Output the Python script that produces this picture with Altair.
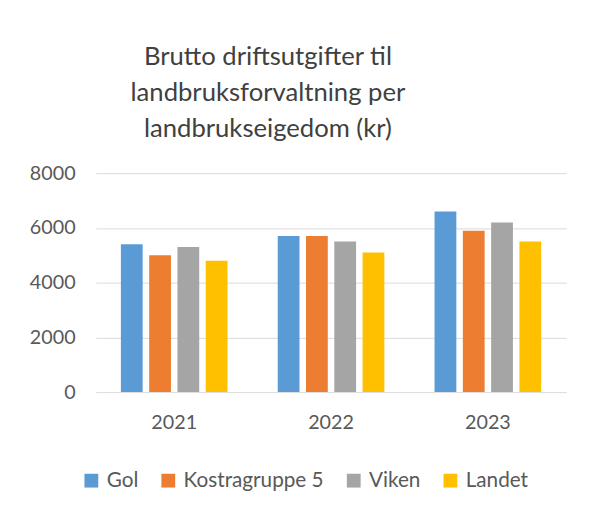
import altair as alt
import pandas as pd

years = ["2021", "2022", "2023"]
series = ["Gol", "Kostragruppe 5", "Viken", "Landet"]
values = {
    "Gol": [5400, 5700, 6600],
    "Kostragruppe 5": [5000, 5700, 5900],
    "Viken": [5300, 5500, 6200],
    "Landet": [4800, 5100, 5500],
}
colors = ["#5B9BD5", "#ED7D31", "#A5A5A5", "#FFC000"]
y_ticks = [0, 2000, 4000, 6000, 8000]
title_lines = ["Brutto driftsutgifter til", "landbruksforvaltning per", "landbrukseigedom (kr)"]

rows = []
for s in series:
    for y, v in zip(years, values[s]):
        rows.append({"year": y, "series": s, "value": v})
df = pd.DataFrame(rows)

FONT = "Lato"

chart = (
    alt.Chart(df)
    .mark_bar()
    .encode(
        x=alt.X(
            "year:N",
            sort=years,
            title=None,
            scale=alt.Scale(paddingInner=0.32, paddingOuter=0.16),
            axis=alt.Axis(labelAngle=0, labelFontSize=20, labelColor="#595959",
                          labelPadding=21, ticks=False, domain=False, labelFont=FONT),
        ),
        xOffset=alt.XOffset("series:N", sort=series,
                            scale=alt.Scale(paddingInner=0.23, paddingOuter=0)),
        y=alt.Y(
            "value:Q",
            title=None,
            scale=alt.Scale(domain=[0, 8000]),
            axis=alt.Axis(values=y_ticks, format="d", labelFontSize=20, labelColor="#595959",
                          labelPadding=21, ticks=False, domain=False, gridColor="#D9D9D9",
                          labelFont=FONT),
        ),
        color=alt.Color(
            "series:N",
            sort=series,
            scale=alt.Scale(domain=series, range=colors),
            legend=alt.Legend(
                title=None, orient="none", direction="horizontal",
                legendX=-15, legendY=301, symbolType="square", symbolSize=196,
                symbolStrokeWidth=0, labelFontSize=21, labelColor="#595959",
                labelFont=FONT, columnPadding=19, labelOffset=5,
            ),
        ),
    )
    .properties(
        width=477,
        height=222,
        autosize=alt.AutoSizeParams(type="none"),
        padding={"left": 89, "top": 164, "right": 22, "bottom": 110},
        title=alt.TitleParams(
            text=title_lines, fontSize=26, font=FONT, fontWeight="normal",
            color="#404040", lineHeight=36.5, anchor="middle", dx=-64, offset=22,
        ),
    )
    .configure_view(stroke=None)
)

chart.save("out.html", embed_options={"renderer": "svg", "actions": False})
